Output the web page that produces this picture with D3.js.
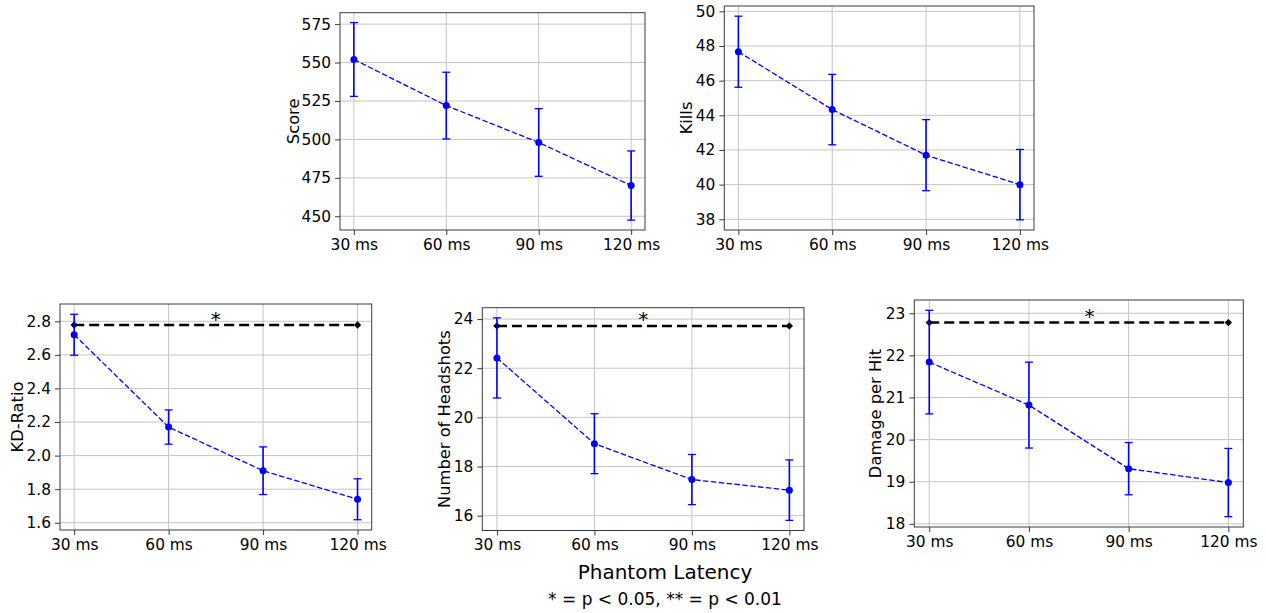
<!DOCTYPE html>
<html>
<head>
<meta charset="utf-8">
<script src="https://cdn.jsdelivr.net/npm/d3@7"></script>
<style>
  html, body { margin: 0; padding: 0; background: #fff; }
  svg { display: block; font-family: "DejaVu Sans", sans-serif; }
</style>
</head>
<body>
<svg id="chart" width="1266" height="613"></svg>
<script>
// ---------- DATA ----------
const latencies = [30, 60, 90, 120];
const latencyLabels = ["30 ms", "60 ms", "90 ms", "120 ms"];

const scoreMean = [552, 522, 498, 470];
const scoreErr  = [24, 21.7, 22, 22.5];

const killsMean = [47.67, 44.33, 41.7, 40.0];
const killsErr  = [2.05, 2.03, 2.05, 2.03];

const kdMean = [2.72, 2.17, 1.91, 1.74];
const kdErr  = [0.122, 0.102, 0.142, 0.122];

const headshotsMean = [22.42, 18.93, 17.47, 17.04];
const headshotsErr  = [1.63, 1.22, 1.02, 1.23];

const damageMean = [21.84, 20.82, 19.31, 18.98];
const damageErr  = [1.23, 1.02, 0.62, 0.81];

const scoreTicks = [450, 475, 500, 525, 550, 575];
const killsTicks = [38, 40, 42, 44, 46, 48, 50];
const kdTicks = [1.6, 1.8, 2.0, 2.2, 2.4, 2.6, 2.8];
const headshotsTicks = [16, 18, 20, 22, 24];
const damageTicks = [18, 19, 20, 21, 22, 23];

// significance bracket: [x start, x end], level, star x position
const sigRange = [30, 120];
const kdSig = 2.778, headshotsSig = 23.72, damageSig = 22.78;
const sigStarX = [75, 75, 78.2];
const sigLabel = "*";

const xLabel = "Phantom Latency";
const noteLabel = "* = p < 0.05, ** = p < 0.01";

// ---------- LAYOUT ----------
const panels = [
  { name: "Score", mean: scoreMean, err: scoreErr, ticks: scoreTicks, fmt: d3.format("d"),
    box: [340, 12.7, 645, 230], labelX: 293 },
  { name: "Kills", mean: killsMean, err: killsErr, ticks: killsTicks, fmt: d3.format("d"),
    box: [724.3, 6, 1034, 230], labelX: 686 },
  { name: "KD-Ratio", mean: kdMean, err: kdErr, ticks: kdTicks, fmt: d3.format(".1f"),
    box: [60, 304, 371.7, 530], labelX: 17, sig: kdSig, starX: sigStarX[0] },
  { name: "Number of Headshots", mean: headshotsMean, err: headshotsErr, ticks: headshotsTicks, fmt: d3.format("d"),
    box: [482.3, 307.7, 804, 530.5], labelX: 444.5, sig: headshotsSig, starX: sigStarX[1] },
  { name: "Damage per Hit", mean: damageMean, err: damageErr, ticks: damageTicks, fmt: d3.format("d"),
    box: [914.3, 300, 1243.3, 527], labelX: 875, sig: damageSig, starX: sigStarX[2] }
];

const svg = d3.select("#chart");
const FS = 15.4;
const LFS = 16.3;
const blue = "#0000ff";
const gridColor = "#c4c4c4";
const spineColor = "#3a3a3a";

panels.forEach(p => {
  const [x0, y0, x1, y1] = p.box;
  const xMin = d3.min(latencies), xMax = d3.max(latencies);
  const xPad = (xMax - xMin) * 0.05;
  const x = d3.scaleLinear().domain([xMin - xPad, xMax + xPad]).range([x0, x1]);

  const lo = d3.min(p.mean.map((m, i) => m - p.err[i]));
  const hi = d3.max(p.mean.map((m, i) => m + p.err[i]));
  const yPad = (hi - lo) * 0.05;
  const y = d3.scaleLinear().domain([lo - yPad, hi + yPad]).range([y1, y0]);

  const g = svg.append("g");

  // grid
  g.append("g").selectAll("line.gy").data(p.ticks).join("line")
    .attr("x1", x0).attr("x2", x1)
    .attr("y1", d => y(d)).attr("y2", d => y(d))
    .attr("stroke", gridColor).attr("stroke-width", 1);
  g.append("g").selectAll("line.gx").data(latencies).join("line")
    .attr("y1", y0).attr("y2", y1)
    .attr("x1", d => x(d)).attr("x2", d => x(d))
    .attr("stroke", gridColor).attr("stroke-width", 1);

  // axes
  const xAxis = d3.axisBottom(x).tickValues(latencies)
    .tickFormat((d, i) => latencyLabels[i]).tickSize(5).tickPadding(4);
  const yAxis = d3.axisLeft(y).tickValues(p.ticks).tickFormat(p.fmt).tickSize(5).tickPadding(4);

  const gx = g.append("g").attr("transform", `translate(0,${y1})`).call(xAxis);
  const gy = g.append("g").attr("transform", `translate(${x0},0)`).call(yAxis);
  [gx, gy].forEach(a => {
    a.select(".domain").remove();
    a.selectAll(".tick line").attr("stroke", spineColor).attr("stroke-width", 1);
    a.selectAll(".tick text").attr("fill", "#000").style("font-size", FS + "px")
      .style("font-family", "DejaVu Sans, sans-serif");
  });

  // frame
  g.append("rect").attr("x", x0).attr("y", y0)
    .attr("width", x1 - x0).attr("height", y1 - y0)
    .attr("fill", "none").attr("stroke", spineColor).attr("stroke-width", 1);

  // y label
  g.append("text")
    .attr("transform", `translate(${p.labelX},${(y0 + y1) / 2}) rotate(-90)`)
    .attr("text-anchor", "middle").attr("dy", "0.36em")
    .style("font-size", LFS + "px").attr("fill", "#000")
    .text(p.name);

  // significance line
  if (p.sig !== undefined) {
    g.append("line")
      .attr("x1", x(sigRange[0])).attr("x2", x(sigRange[1]))
      .attr("y1", y(p.sig)).attr("y2", y(p.sig))
      .attr("stroke", "#000").attr("stroke-width", 2.6)
      .attr("stroke-dasharray", "10,5");
    const sym = d3.symbol().type(d3.symbolDiamond2).size(34);
    g.selectAll("path.sigm").data(sigRange).join("path")
      .attr("d", sym)
      .attr("transform", d => `translate(${x(d)},${y(p.sig)})`)
      .attr("fill", "#000");
    g.append("text")
      .attr("x", x(p.starX)).attr("y", y(p.sig) + 0.5)
      .attr("text-anchor", "middle")
      .style("font-size", "20px").attr("fill", "#000")
      .text(sigLabel);
  }

  // mean line
  const line = d3.line().x((d, i) => x(latencies[i])).y(d => y(d));
  g.append("path").datum(p.mean)
    .attr("d", line).attr("fill", "none")
    .attr("stroke", blue).attr("stroke-width", 1.3)
    .attr("stroke-dasharray", "5.5,2.4");

  // error bars
  const eb = g.append("g");
  p.mean.forEach((m, i) => {
    const cx = x(latencies[i]);
    const top = y(m + p.err[i]), bot = y(m - p.err[i]);
    eb.append("line").attr("x1", cx).attr("x2", cx).attr("y1", top).attr("y2", bot)
      .attr("stroke", blue).attr("stroke-width", 1.6);
    [top, bot].forEach(yy => {
      eb.append("line").attr("x1", cx - 4).attr("x2", cx + 4).attr("y1", yy).attr("y2", yy)
        .attr("stroke", blue).attr("stroke-width", 1.3);
    });
  });

  // points
  g.selectAll("circle.pt").data(p.mean).join("circle")
    .attr("cx", (d, i) => x(latencies[i])).attr("cy", d => y(d))
    .attr("r", 3.5).attr("fill", blue);
});

// shared labels
svg.append("text").attr("x", 665).attr("y", 579)
  .attr("text-anchor", "middle").style("font-size", "20px").attr("fill", "#000")
  .text(xLabel);
svg.append("text").attr("x", 665).attr("y", 605)
  .attr("text-anchor", "middle").style("font-size", "17px").attr("fill", "#000")
  .text(noteLabel);
</script>
</body>
</html>
